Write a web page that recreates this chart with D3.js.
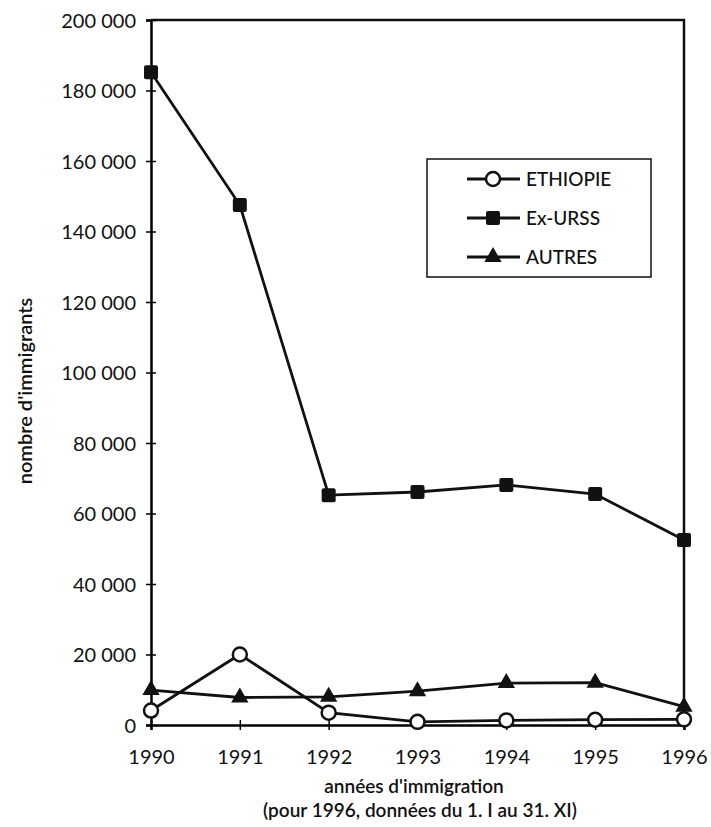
<!DOCTYPE html>
<html>
<head>
<meta charset="utf-8">
<script src="https://cdn.jsdelivr.net/npm/d3@7"></script>
<style>
  body { margin: 0; background: #fff; }
  svg text { font-family: Lato, "Open Sans", sans-serif; fill: #111; }
</style>
</head>
<body>
<div id="chart"></div>
<script>
// Immigration en Israël, 1990-1996
const years = [1990, 1991, 1992, 1993, 1994, 1995, 1996];
const ethiopie = [4100, 20000, 3500, 900, 1300, 1500, 1600];
const exUrss = [185200, 147500, 65200, 66100, 68100, 65500, 52500];
const autres = [9900, 7800, 8000, 9600, 11900, 12000, 5200];
const yTicks = [0, 20000, 40000, 60000, 80000, 100000, 120000, 140000, 160000, 180000, 200000];

const series = [
  { name: 'ETHIOPIE', values: ethiopie, marker: 'circle' },
  { name: 'Ex-URSS', values: exUrss, marker: 'square' },
  { name: 'AUTRES', values: autres, marker: 'triangle' }
];

const width = 711, height = 827;
const margin = { left: 151, right: 27, top: 20, bottom: 102 };

const svg = d3.select('#chart').append('svg')
  .attr('width', width)
  .attr('height', height);

const x = d3.scaleLinear()
  .domain([1990, 1996])
  .range([margin.left, width - margin.right]);

const y = d3.scaleLinear()
  .domain([0, 200000])
  .range([height - margin.bottom, margin.top]);

const fmt = v => d3.format(',')(v).replace(/,/g, ' ');

// frame (top + right)
svg.append('path')
  .attr('d', `M${x(1990)},${y(200000)}H${x(1996)}V${y(0)}`)
  .attr('fill', 'none')
  .attr('stroke', '#111')
  .attr('stroke-width', 2.5);

// y axis
const yAxis = svg.append('g')
  .attr('transform', `translate(${x(1990)},0)`)
  .call(d3.axisLeft(y).tickValues(yTicks).tickFormat(fmt).tickSize(5).tickPadding(10));
yAxis.selectAll('.tick line').attr('x2', 5).attr('x1', -5).attr('stroke-width', 1.5);
yAxis.select('.domain').attr('stroke-width', 2.5);
yAxis.selectAll('text').attr('font-size', 20).attr('dy', '0.35em');

// x axis
const xAxis = svg.append('g')
  .attr('transform', `translate(0,${y(0)})`)
  .call(d3.axisBottom(x).tickValues(years).tickFormat(d3.format('d')).tickSize(5).tickPadding(20));
xAxis.selectAll('.tick line').attr('y1', -5).attr('y2', 5).attr('stroke-width', 1.5);
xAxis.select('.domain').attr('stroke-width', 2.5);
xAxis.selectAll('text').attr('font-size', 20);

// axis titles
svg.append('text')
  .attr('transform', 'translate(32,391) rotate(-90)')
  .attr('text-anchor', 'middle')
  .attr('font-size', 20)
  .attr('font-weight', 600)
  .text("nombre d'immigrants");

svg.append('text')
  .attr('x', 414)
  .attr('y', 793)
  .attr('text-anchor', 'middle')
  .attr('font-size', 19)
  .attr('font-weight', 600)
  .text("années d'immigration");

svg.append('text')
  .attr('x', 420)
  .attr('y', 817)
  .attr('text-anchor', 'middle')
  .attr('font-size', 19)
  .attr('font-weight', 600)
  .text('(pour 1996, données du 1. I au 31. XI)');

const line = d3.line()
  .x((d, i) => x(years[i]))
  .y(d => y(d));

function drawMarker(g, type) {
  if (type === 'circle') {
    g.append('circle').attr('r', 7).attr('fill', '#fff').attr('stroke', '#111').attr('stroke-width', 2.5);
  } else if (type === 'square') {
    g.append('rect').attr('x', -7).attr('y', -7).attr('width', 14).attr('height', 14)
      .attr('rx', 2).attr('fill', '#111');
  } else {
    g.append('path').attr('d', d3.symbol(d3.symbolTriangle, 130)()).attr('fill', '#111');
  }
}

series.forEach(s => {
  svg.append('path')
    .datum(s.values)
    .attr('d', line)
    .attr('fill', 'none')
    .attr('stroke', '#111')
    .attr('stroke-width', 2.8);
});

series.forEach(s => {
  svg.append('g').selectAll('g')
    .data(s.values)
    .join('g')
    .attr('transform', (d, i) => `translate(${x(years[i])},${y(d)})`)
    .each(function () { drawMarker(d3.select(this), s.marker); });
});

// legend
const legend = svg.append('g').attr('transform', 'translate(427,159)');
legend.append('rect')
  .attr('width', 224).attr('height', 118)
  .attr('fill', '#fff').attr('stroke', '#111').attr('stroke-width', 1.5);

series.forEach((s, i) => {
  const row = legend.append('g').attr('transform', `translate(0,${20 + i * 39})`);
  row.append('line').attr('x1', 40).attr('x2', 93)
    .attr('stroke', '#111').attr('stroke-width', 2.8);
  drawMarker(row.append('g').attr('transform', 'translate(66,0)'), s.marker);
  row.append('text')
    .attr('x', 99).attr('dy', '0.35em')
    .attr('font-size', 19)
    .attr('font-weight', 500)
    .text(s.name);
});
</script>
</body>
</html>
